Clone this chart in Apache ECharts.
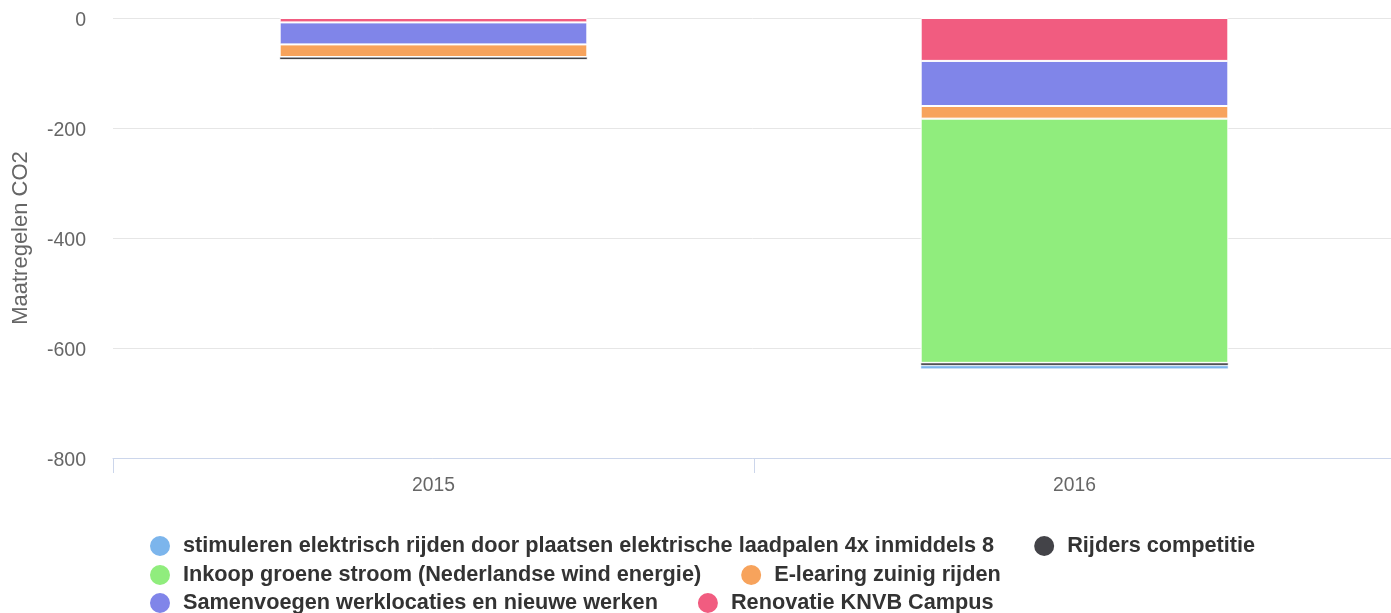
<!DOCTYPE html>
<html><head><meta charset="utf-8">
<script src="https://cdn.jsdelivr.net/npm/echarts@6/dist/echarts.min.js"></script>
<style>html,body{margin:0;padding:0;background:#fff}#c{width:1391px;height:613px}</style>
</head><body><div id="c"></div>
<script>
const categories = ['2015', '2016'];
const yTicks = { min: -800, max: 0, interval: 200 };
const stimuleren = [0, -6];
const rijders = [-5, -5];
const inkoop = [0, -444];
const elearing = [-23, -23];
const samenvoegen = [-40, -82];
const renovatie = [-8, -78];

const names = {
  stimuleren: 'stimuleren elektrisch rijden door plaatsen elektrische laadpalen 4x inmiddels 8',
  rijders: 'Rijders competitie',
  inkoop: 'Inkoop groene stroom (Nederlandse wind energie)',
  elearing: 'E-learing zuinig rijden',
  samenvoegen: 'Samenvoegen werklocaties en nieuwe werken',
  renovatie: 'Renovatie KNVB Campus'
};
const colors = {
  stimuleren: '#7cb5ec', rijders: '#434348', inkoop: '#90ed7d',
  elearing: '#f7a35c', samenvoegen: '#8085e9', renovatie: '#f15c80'
};
const dataMap = { stimuleren, rijders, inkoop, elearing, samenvoegen, renovatie };
// stacking order from zero outward
const stackOrder = ['renovatie', 'samenvoegen', 'elearing', 'inkoop', 'rijders', 'stimuleren'];
const thin = { rijders: true, stimuleren: true };

const FONT = 'Liberation Sans, Arial, Helvetica, sans-serif';

const series = stackOrder.map(k => ({
  name: names[k], type: 'bar', stack: 'a', data: dataMap[k],
  barWidth: '48%',
  itemStyle: { color: colors[k], borderColor: '#fff', borderWidth: thin[k] ? 0.5 : 1 },
  emphasis: { disabled: true }
}));

const legendRows = [['stimuleren', 'rijders'], ['inkoop', 'elearing'], ['samenvoegen', 'renovatie']];
const legendCenters = [547, 576, 604];
const legends = legendRows.map((row, i) => ({
  data: row.map(k => ({ name: names[k], icon: 'circle' })),
  left: 148, top: legendCenters[i] - 13, itemWidth: 22, itemHeight: 22, itemGap: 38,
  padding: 0,
  textStyle: { fontSize: 21.7, fontWeight: 'bold', color: '#333', fontFamily: FONT, padding: [0, 0, 0, 7] }
}));

const chart = echarts.init(document.getElementById('c'));
chart.setOption({
  animation: false,
  color: stackOrder.map(k => colors[k]),
  grid: { left: 113, right: -4, top: 18, bottom: 155, outerBoundsMode: 'none', containLabel: false },
  legend: legends,
  xAxis: {
    type: 'category', data: categories, position: 'bottom',
    axisLine: { onZero: false, lineStyle: { color: '#ccd6eb', width: 1 } },
    axisTick: { show: true, length: 15, lineStyle: { color: '#ccd6eb' } },
    axisLabel: { color: '#666', fontSize: 19.3, margin: 18, fontFamily: FONT }
  },
  yAxis: {
    type: 'value', min: yTicks.min, max: yTicks.max, interval: yTicks.interval,
    name: 'Maatregelen CO2', nameLocation: 'middle', nameGap: 81,
    nameTextStyle: { color: '#666', fontSize: 22, fontFamily: FONT },
    axisLine: { show: false }, axisTick: { show: false },
    splitLine: { lineStyle: { color: '#e6e6e6' } },
    axisLabel: { color: '#666', fontSize: 19.5, margin: 27, fontFamily: FONT, verticalAlign: 'top', lineHeight: 6 }
  },
  series
});
</script></body></html>
